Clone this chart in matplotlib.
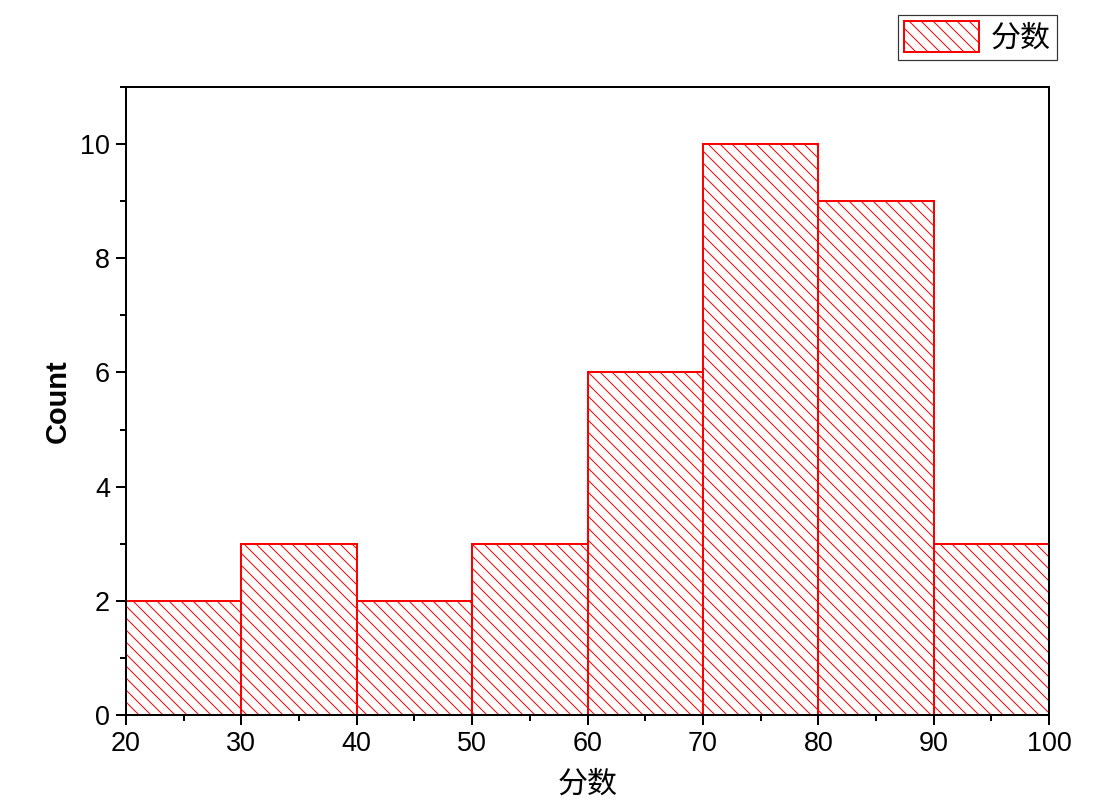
import matplotlib
matplotlib.use("Agg")
import matplotlib.pyplot as plt
from matplotlib.ticker import MultipleLocator

# histogram of scores (bin edges and counts)
bin_edges = [20, 30, 40, 50, 60, 70, 80, 90, 100]
counts = [2, 3, 2, 3, 6, 10, 9, 3]
x_label = "分数"
y_label = "Count"
legend_label = "分数"

DPI = 144
plt.rcParams["font.family"] = ["Liberation Sans", "Noto Sans CJK SC", "DejaVu Sans"]
plt.rcParams["hatch.linewidth"] = 0.5

fig = plt.figure(figsize=(1118 / DPI, 810 / DPI), dpi=DPI)
ax = fig.add_axes([126 / 1118, 1 - 715 / 810, (1049 - 126) / 1118, (715 - 87) / 810])

widths = [b - a for a, b in zip(bin_edges[:-1], bin_edges[1:])]
ax.bar(bin_edges[:-1], counts, width=widths, align="edge",
       facecolor="white", edgecolor="red", hatch="\\\\\\\\",
       linewidth=1.0, label=legend_label)

ax.set_xlim(20, 100)
ax.set_ylim(0, 11)
ax.xaxis.set_major_locator(MultipleLocator(10))
ax.xaxis.set_minor_locator(MultipleLocator(5))
ax.yaxis.set_major_locator(MultipleLocator(2))
ax.yaxis.set_minor_locator(MultipleLocator(1))

ax.tick_params(which="major", direction="out", length=5, width=1,
               labelsize=13.5, pad=3)
ax.tick_params(which="minor", direction="out", length=3, width=1)
for spine in ax.spines.values():
    spine.set_linewidth(1)

ax.set_xlabel(x_label, fontsize=15, family=["Noto Sans CJK SC"], labelpad=6)
ax.set_ylabel(y_label, fontsize=14.5, fontweight="bold", labelpad=4)

leg = fig.legend(loc="upper right", bbox_to_anchor=(1057 / 1118, 1 - 15 / 810),
                 prop={"family": ["Noto Sans CJK SC"], "size": 15},
                 frameon=True, fancybox=False, edgecolor="black",
                 handlelength=2.5, handleheight=1.2, borderpad=0.2,
                 handletextpad=0.4, borderaxespad=0)
leg.get_frame().set_linewidth(0.6)

fig.savefig("out.png", dpi=DPI)
